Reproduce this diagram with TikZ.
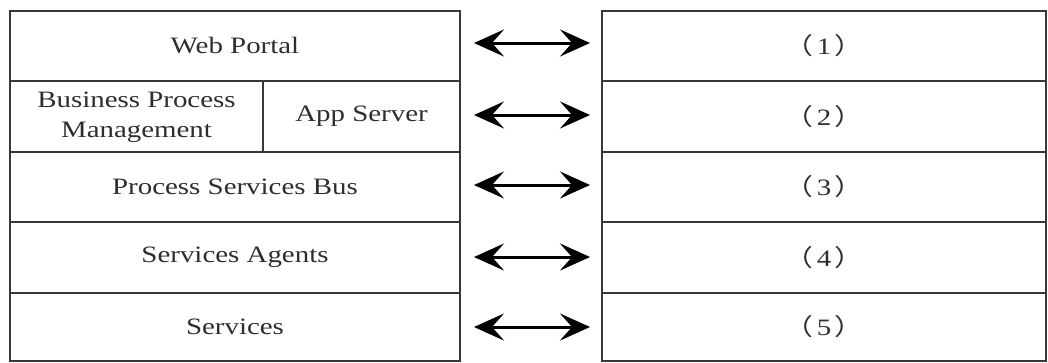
\documentclass[tikz,border=0pt]{standalone}
\usepackage{fontspec}
\usepackage{graphicx}
\setmainfont{Liberation Serif}
\newfontfamily\cjk{Noto Sans CJK SC}
\usetikzlibrary{arrows.meta}
\newcommand\sx[1]{\scalebox{1.23}[1]{#1}}
\newcommand\pnum[1]{\sx{{\cjk （}\hspace{3pt}#1\hspace{3pt}{\cjk ）}}}
\tikzset{
  cell/.style={draw=black!78, line width=2pt, inner sep=0pt, text=black!82,
    font=\fontsize{23.5}{30}\selectfont},
  link/.style={line width=3pt,
    {Stealth[length=30pt,width=27pt,inset=12pt]}-{Stealth[length=30pt,width=27pt,inset=12pt]},
    shorten <=13pt, shorten >=11pt},
}
\begin{document}
\begin{tikzpicture}[x=1pt,y=-1pt]
\useasboundingbox (0,0) rectangle (1048,362);
% left column
\node[cell, minimum width=450pt, minimum height=70pt] (L1) at (235,46) {\sx{Web Portal}};
\node[cell, minimum width=253pt, minimum height=71pt] (L2a) at (136.5,116.5)
  {\sx{\begin{tabular}{@{}c@{}}Business Process\\Management\end{tabular}}};
\node[cell, minimum width=197pt, minimum height=71pt] (L2b) at (361.5,116.5) {\sx{App Server}};
\node[cell, minimum width=450pt, minimum height=70pt] (L3) at (235,187) {\sx{Process Services Bus}};
\node[cell, minimum width=450pt, minimum height=71pt] (L4) at (235,257.5) {\sx{Services Agents}};
\node[cell, minimum width=450pt, minimum height=68pt] (L5) at (235,327) {\sx{Services}};
% right column
\node[cell, minimum width=444pt, minimum height=70pt] (R1) at (824,46) {\pnum{1}};
\node[cell, minimum width=444pt, minimum height=71pt] (R2) at (824,116.5) {\pnum{2}};
\node[cell, minimum width=444pt, minimum height=70pt] (R3) at (824,187) {\pnum{3}};
\node[cell, minimum width=444pt, minimum height=71pt] (R4) at (824,257.5) {\pnum{4}};
\node[cell, minimum width=444pt, minimum height=68pt] (R5) at (824,327) {\pnum{5}};
% arrows
\draw[link] (L1.east |- 0,43) -- (R1.west |- 0,43);
\draw[link] (L2b.east |- 0,115) -- (R2.west |- 0,115);
\draw[link] (L3.east |- 0,185) -- (R3.west |- 0,185);
\draw[link] (L4.east |- 0,257) -- (R4.west |- 0,257);
\draw[link] (L5.east |- 0,327) -- (R5.west |- 0,327);
\end{tikzpicture}
\end{document}
